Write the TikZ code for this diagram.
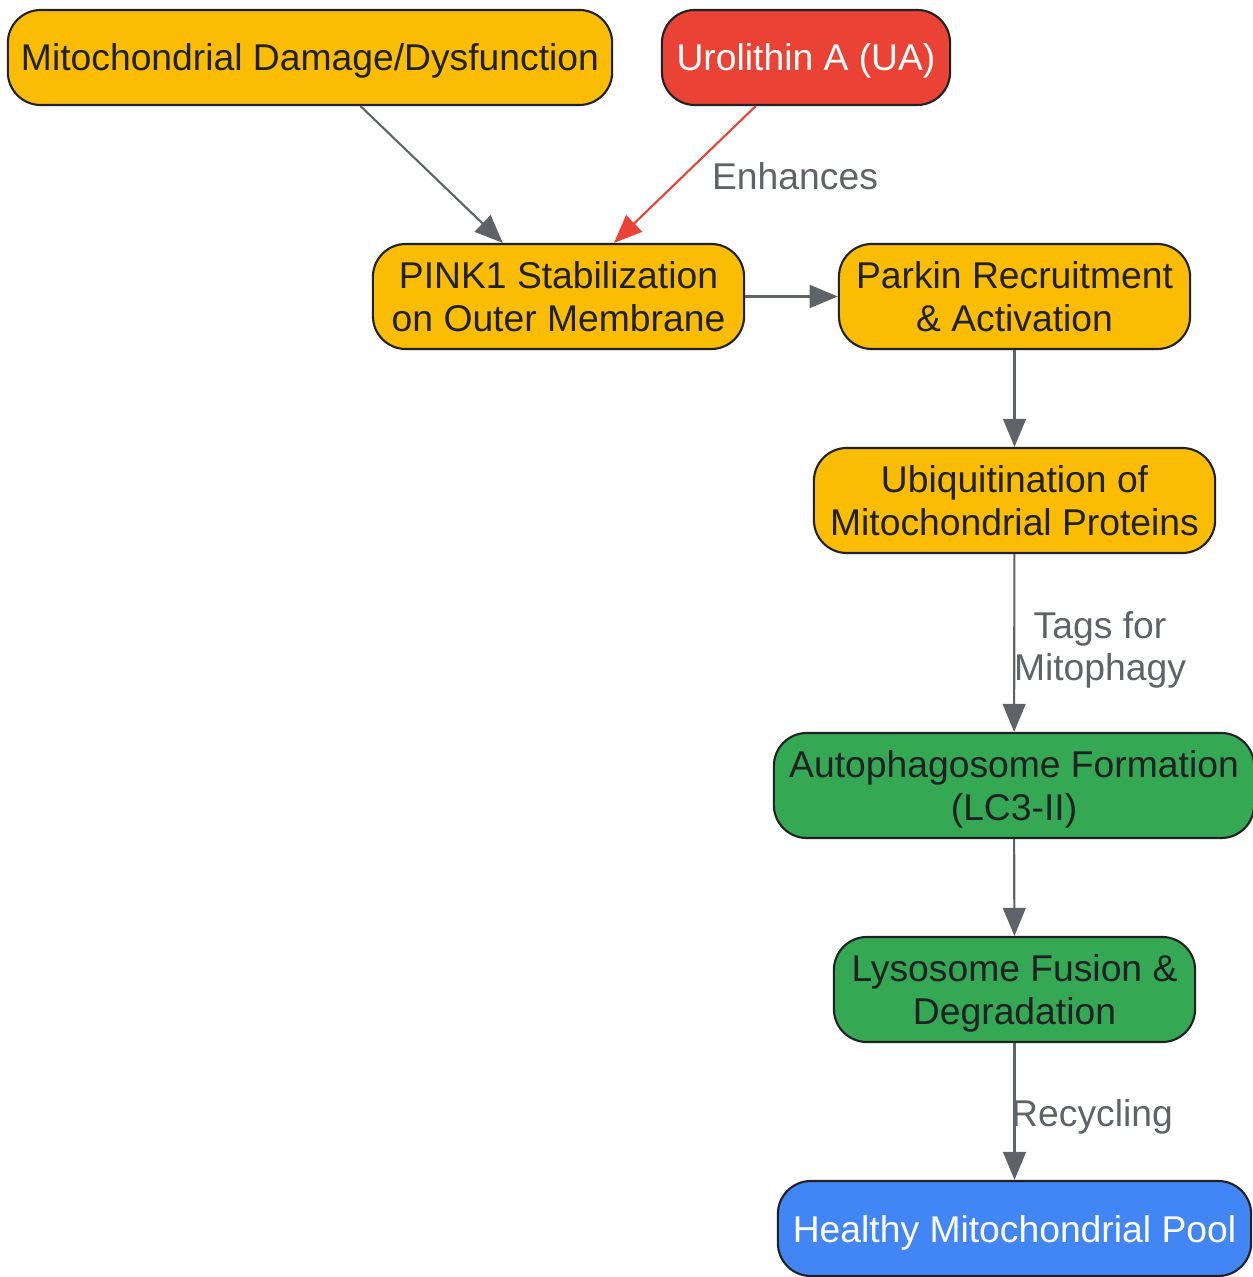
\documentclass[tikz,border=0pt]{standalone}
\usepackage{fontspec}
\setmainfont{Liberation Sans}
\usetikzlibrary{arrows.meta}
\definecolor{damagefill}{HTML}{FBBC04}
\definecolor{uafill}{HTML}{EA4335}
\definecolor{autofill}{HTML}{34A853}
\definecolor{poolfill}{HTML}{4285F4}
\definecolor{boxline}{HTML}{202124}
\definecolor{flowgray}{HTML}{5F6368}
\tikzstyle{stage}=[draw=boxline,line width=0.6pt,rounded corners=0.33cm,align=center,text=boxline,font=\fontsize{10.6}{12}\selectfont,minimum height=1.05cm,inner sep=0pt,text depth=0pt]
\tikzstyle{flow}=[draw=flowgray,line width=0.6pt,-{Triangle[length=8pt,width=6.5pt]}]
\tikzstyle{flowlabel}=[text=flowgray,font=\fontsize{10.6}{12}\selectfont,align=center,inner sep=0pt]

\begin{document}
\begin{tikzpicture}[x=0.01cm,y=-0.01cm]
\useasboundingbox (0,0) rectangle (1252,1277);
	% top row
	\node[stage,fill=damagefill,minimum width=6.04cm,minimum height=0.95cm] (damage) at (310,57.5) {Mitochondrial Damage/Dysfunction};
	\node[stage,fill=uafill,text=white,minimum width=2.88cm,minimum height=0.95cm] (ua) at (806,57.5) {Urolithin A (UA)};
	% PINK1 / Parkin pathway
	\node[stage,fill=damagefill,minimum width=3.71cm] (pink) at (558.5,296.5) {PINK1 Stabilization\\on Outer Membrane};
	\node[stage,fill=damagefill,minimum width=3.51cm] (parkin) at (1014.5,296.5) {Parkin Recruitment\\\& Activation};
	\node[stage,fill=damagefill,minimum width=4.01cm] (ubiq) at (1014.5,500.5) {Ubiquitination of\\Mitochondrial Proteins};
	% autophagy
	\node[stage,fill=autofill,minimum width=4.80cm] (autoph) at (1014,785.5) {Autophagosome Formation\\(LC3-II)};
	\node[stage,fill=autofill,minimum width=3.61cm] (lyso) at (1014.5,989.5) {Lysosome Fusion \&\\Degradation};
	\node[stage,fill=poolfill,text=white,minimum width=4.73cm,minimum height=0.95cm] (pool) at (1014.5,1228.5) {Healthy Mitochondrial Pool};

	\draw[flow] (damage) -- (pink);
	\draw[flow,draw=uafill] (ua) -- (pink);
	\foreach \a/\b in {pink/parkin,parkin/ubiq,ubiq/autoph,autoph/lyso,lyso/pool}
		\draw[flow] (\a) -- (\b);

	\node[flowlabel] (enhances) at (795,176) {Enhances};
	\node[flowlabel] (tags) at (1100,650) {Tags for\\Mitophagy};
	\node[flowlabel] (recycling) at (1092,1117) {Recycling};
\end{tikzpicture}
\end{document}
